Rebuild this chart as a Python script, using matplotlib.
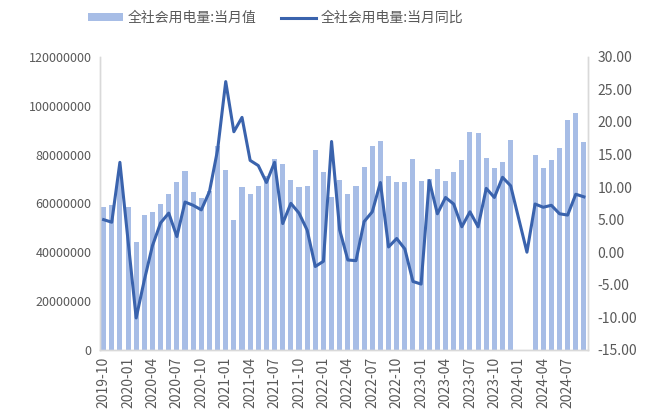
import matplotlib
matplotlib.use("Agg")
import matplotlib.pyplot as plt
import matplotlib.ticker as mtick
import numpy as np
import pandas as pd

plt.rcParams['font.family'] = ['Noto Sans CJK SC', 'DejaVu Sans']

# 月份: 2019-10 ~ 2024-09
months = pd.period_range("2019-10", "2024-09", freq="M").strftime("%Y-%m").tolist()

# 全社会用电量:当月值 (2024-01, 2024-02 无数据)
consumo = [
    58.5, 59.3, 72.0, 58.6, 44.1, 55.3, 56.3, 59.7, 63.8, 68.7,
    73.1, 64.6, 62.2, 65.0, 83.5, 73.8, 53.1, 66.7, 63.8, 67.3,
    71.0, 78.1, 76.2, 69.7, 66.5, 67.3, 81.7, 72.7, 62.6, 69.4,
    63.8, 67.3, 74.9, 83.5, 85.7, 71.3, 68.6, 68.6, 78.1, 69.1,
    70.0, 74.0, 69.1, 72.7, 77.7, 89.3, 88.8, 78.6, 74.5, 76.8,
    86.1, np.nan, np.nan, 79.8, 74.5, 77.7, 82.5, 94.1, 96.8, 85.1,
]
consumo = np.array(consumo) * 1e6

# 全社会用电量:当月同比 (%)
yoy = [
    5.0, 4.6, 13.8, 1.8, -10.1, -4.3, 1.0, 4.5, 6.0, 2.4,
    7.7, 7.2, 6.5, 9.3, 15.7, 26.2, 18.5, 20.7, 14.1, 13.3,
    10.7, 13.8, 4.4, 7.5, 6.0, 3.4, -2.2, -1.4, 17.0, 3.4,
    -1.2, -1.3, 4.7, 6.2, 10.7, 0.8, 2.1, 0.5, -4.5, -4.9,
    11.0, 5.9, 8.4, 7.4, 3.9, 6.2, 3.9, 9.8, 8.4, 11.5,
    10.2, np.nan, 0.0, 7.4, 6.9, 7.2, 5.9, 5.7, 8.9, 8.5,
]
yoy = np.array(yoy)

bar_color = "#A7BDE6"
line_color = "#3A63AD"
text_color = "#595959"

fig = plt.figure(figsize=(6.49, 4.15), dpi=100)
ax = fig.add_axes([0.154, 0.157, 0.752, 0.706])
ax2 = ax.twinx()

x = np.arange(len(months))
ax.bar(x, consumo, width=0.62, color=bar_color, label="全社会用电量:当月值", zorder=1)

# 缺失月份直接连线
ok = ~np.isnan(yoy)
ax2.plot(x[ok], yoy[ok], color=line_color, linewidth=2.2, label="全社会用电量:当月同比")

ax.set_xlim(-0.45, 59.5)
ax.set_ylim(0, 120000000)
ax.yaxis.set_major_locator(mtick.MultipleLocator(20000000))
ax.yaxis.set_major_formatter(mtick.FuncFormatter(lambda v, _: f"{v:.0f}"))

ax2.set_ylim(-15, 30)
ax2.yaxis.set_major_locator(mtick.MultipleLocator(5))
ax2.yaxis.set_major_formatter(mtick.FuncFormatter(lambda v, _: f"{v:.2f}"))

ax.set_xticks(x[::3])
ax.set_xticklabels(months[::3], rotation=90)

for a in (ax, ax2):
    a.tick_params(length=0, labelsize=9, colors=text_color)
    a.spines["top"].set_visible(False)
    for s in ("left", "right", "bottom"):
        a.spines[s].set_color("#D9D9D9")
        a.spines[s].set_linewidth(1.0)
ax.tick_params(axis="y", pad=6)
ax2.tick_params(axis="y", pad=7, labelsize=10)
ax.tick_params(axis="x", pad=5, labelsize=10)

h1, l1 = ax.get_legend_handles_labels()
h2, l2 = ax2.get_legend_handles_labels()
fig.legend(h1 + h2, l1 + l2, loc="center", bbox_to_anchor=(0.425, 0.957),
           ncol=2, frameon=False, fontsize=10, labelcolor=text_color,
           handlelength=2.5, handleheight=0.45, handletextpad=0.36,
           columnspacing=1.8)

fig.savefig("out.png", dpi=100)
